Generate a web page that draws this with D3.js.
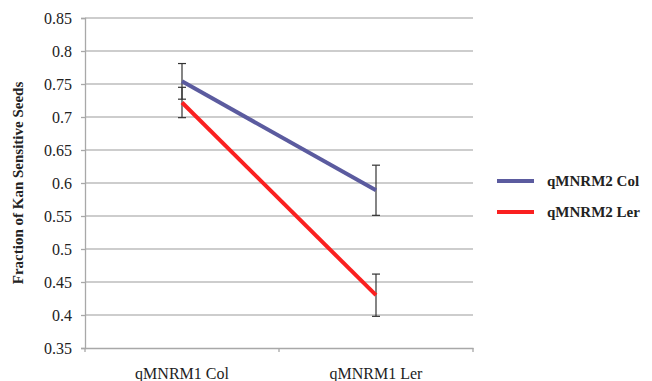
<!DOCTYPE html>
<html>
<head>
<meta charset="utf-8">
<style>
  body { margin: 0; background: #fff; font-family: 'Liberation Serif', serif; }
  svg { display: block; }
  svg text { font-family: 'Liberation Serif', 'Times New Roman', serif; }
</style>
</head>
<body>
<div id="chart"></div>
<script src="https://cdn.jsdelivr.net/npm/d3@7"></script>
<script>
const categories = ['qMNRM1 Col', 'qMNRM1 Ler'];
const seriesNames = ['qMNRM2 Col', 'qMNRM2 Ler'];
const colValues = [0.754, 0.589];
const colErrors = [0.027, 0.038];
const lerValues = [0.722, 0.430];
const lerErrors = [0.023, 0.032];
const yTicks = [0.35, 0.4, 0.45, 0.5, 0.55, 0.6, 0.65, 0.7, 0.75, 0.8, 0.85];
const colors = ['#5b5b9f', '#fa2020'];

const width = 652, height = 381;
const plot = { left: 85, right: 473, top: 18, bottom: 348 };
const serif = "'Liberation Serif', 'Times New Roman', serif";

function drawChart() {
    const svg = d3.select('#chart').append('svg')
        .attr('width', width)
        .attr('height', height);

    const x = d3.scaleBand()
        .domain(categories)
        .range([plot.left, plot.right]);

    const y = d3.scaleLinear()
        .domain([0.35, 0.85])
        .range([plot.bottom, plot.top]);

    // gridlines
    svg.append('g')
        .selectAll('line')
        .data(yTicks.filter(d => d > 0.35))
        .enter().append('line')
        .attr('x1', plot.left)
        .attr('x2', plot.right)
        .attr('y1', d => y(d))
        .attr('y2', d => y(d))
        .attr('stroke', '#bdbdbd')
        .attr('stroke-width', 1.3);

    // y axis
    const yAxis = svg.append('g')
        .attr('transform', `translate(${plot.left},0)`)
        .call(d3.axisLeft(y).tickValues(yTicks).tickSize(4).tickPadding(9)
            .tickFormat(d => String(+d.toFixed(2))));
    yAxis.attr('font-family', serif).attr('font-size', 16);
    yAxis.select('.domain').attr('stroke', '#a8a8a8').attr('stroke-width', 1.3);
    yAxis.selectAll('.tick line').attr('stroke', '#a8a8a8').attr('stroke-width', 1.3);
    yAxis.selectAll('text').attr('fill', '#222');

    // x axis
    const xAxis = svg.append('g')
        .attr('transform', `translate(0,${plot.bottom})`)
        .call(d3.axisBottom(x).tickSize(0).tickPadding(20));
    xAxis.attr('font-family', serif).attr('font-size', 16);
    xAxis.select('.domain').attr('stroke', '#a8a8a8').attr('stroke-width', 1.3);
    xAxis.selectAll('text').attr('fill', '#222');
    // boundary ticks between categories
    xAxis.selectAll('.bound')
        .data([plot.left, x(categories[1]), plot.right])
        .enter().append('line')
        .attr('x1', d => d).attr('x2', d => d)
        .attr('y1', 0).attr('y2', 4)
        .attr('stroke', '#a8a8a8')
        .attr('stroke-width', 1.3);

    // y title
    svg.append('text')
        .attr('transform', `translate(23,${(plot.top + plot.bottom) / 2}) rotate(-90)`)
        .attr('text-anchor', 'middle')
        .attr('font-family', serif)
        .attr('font-weight', 'bold')
        .attr('font-size', 15)
        .attr('fill', '#222')
        .text('Fraction of Kan Sensitive Seeds');

    const series = [
        { name: seriesNames[0], values: colValues, errors: colErrors, color: colors[0] },
        { name: seriesNames[1], values: lerValues, errors: lerErrors, color: colors[1] }
    ];

    const cx = c => x(c) + x.bandwidth() / 2;

    // error bars
    series.forEach(s => {
        const eb = svg.append('g');
        categories.forEach((c, i) => {
            const hi = y(s.values[i] + s.errors[i]);
            const lo = y(s.values[i] - s.errors[i]);
            eb.append('line')
                .attr('x1', cx(c)).attr('x2', cx(c))
                .attr('y1', hi).attr('y2', lo)
                .attr('stroke', '#333').attr('stroke-width', 1.2);
            [hi, lo].forEach(yy => {
                eb.append('line')
                    .attr('x1', cx(c) - 4).attr('x2', cx(c) + 4)
                    .attr('y1', yy).attr('y2', yy)
                    .attr('stroke', '#333').attr('stroke-width', 1.2);
            });
        });
    });

    // lines
    const line = d3.line()
        .x((d, i) => cx(categories[i]))
        .y(d => y(d));

    series.forEach(s => {
        svg.append('path')
            .datum(s.values)
            .attr('d', line)
            .attr('fill', 'none')
            .attr('stroke', s.color)
            .attr('stroke-width', 4);
    });

    // legend
    const legend = svg.append('g')
        .attr('transform', 'translate(497,181)');

    const entry = legend.selectAll('g')
        .data(series)
        .enter().append('g')
        .attr('transform', (d, i) => `translate(0,${i * 31})`);

    entry.append('line')
        .attr('x1', 0).attr('x2', 37)
        .attr('y1', 0).attr('y2', 0)
        .attr('stroke', d => d.color)
        .attr('stroke-width', 4);

    entry.append('text')
        .attr('x', 50)
        .attr('dy', '0.35em')
        .attr('font-family', serif)
        .attr('font-weight', 'bold')
        .attr('font-size', 15)
        .attr('fill', '#222')
        .text(d => d.name);
}

// make sure the serif face is loaded before text is laid out
if (document.fonts && document.fonts.load) {
    Promise.all([
        document.fonts.load("16px 'Liberation Serif'"),
        document.fonts.load("bold 15px 'Liberation Serif'")
    ]).then(drawChart, drawChart);
} else {
    drawChart();
}
</script>
</body>
</html>
